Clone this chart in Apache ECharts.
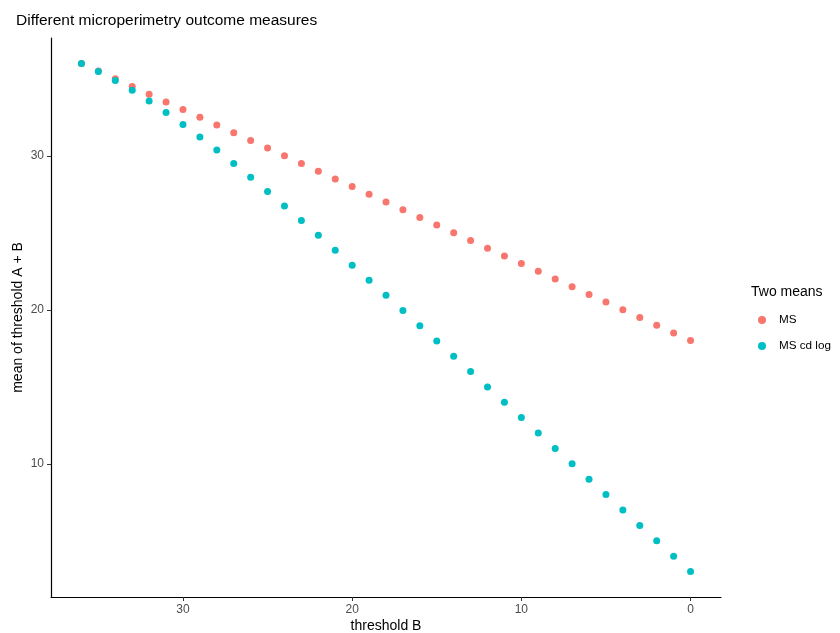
<!DOCTYPE html>
<html>
<head>
<meta charset="utf-8">
<script src="https://cdn.jsdelivr.net/npm/echarts@6/dist/echarts.min.js"></script>
<style>
  html, body { margin: 0; padding: 0; background: #fff; }
  #chart { width: 840px; height: 633px; }
</style>
</head>
<body>
<div id="chart"></div>
<script>
// threshold B values (dB), plotted on a reversed axis
const thresholdB = [36, 35, 34, 33, 32, 31, 30, 29, 28, 27, 26, 25, 24, 23, 22, 21, 20, 19,
  18, 17, 16, 15, 14, 13, 12, 11, 10, 9, 8, 7, 6, 5, 4, 3, 2, 1, 0];

// arithmetic mean of threshold A and B (dB)
const meanMS = [36, 35.5, 35, 34.5, 34, 33.5, 33, 32.5, 32, 31.5, 31, 30.5, 30, 29.5, 29, 28.5,
  28, 27.5, 27, 26.5, 26, 25.5, 25, 24.5, 24, 23.5, 23, 22.5, 22, 21.5, 21, 20.5, 20, 19.5,
  19, 18.5, 18];

// mean computed in cd/m² then converted back to dB
const meanCdLog = [36, 35.47, 34.89, 34.25, 33.56, 32.82, 32.04, 31.22, 30.37, 29.5, 28.6,
  27.68, 26.74, 25.8, 24.84, 23.87, 22.9, 21.92, 20.94, 19.96, 18.97, 17.98, 16.98, 15.99,
  14.99, 14, 13, 12, 11, 10, 9, 8, 7, 6, 5, 4, 3.01];

const xTicks = [0, 10, 20, 30];
const yTicks = [10, 20, 30];
const seriesNames = ['MS', 'MS cd log'];
const colors = ['#F8766D', '#00BFC4'];

const chart = echarts.init(document.getElementById('chart'), null, { renderer: 'canvas' });
const font = 'Helvetica, "Liberation Sans", Arial, sans-serif';

const pairs = (ys) => thresholdB.map((b, i) => [b, ys[i]]);

chart.setOption({
  animation: false,
  backgroundColor: '#ffffff',
  textStyle: { fontFamily: font },
  title: [
    {
      text: 'Different microperimetry outcome measures',
      left: 11, top: 8,
      textStyle: { fontSize: 15.5, fontWeight: 'normal', color: '#000', fontFamily: font }
    },
    {
      text: 'Two means',
      left: 746, top: 280,
      textStyle: { fontSize: 14, fontWeight: 'normal', color: '#000', fontFamily: font }
    }
  ],
  legend: {
    data: seriesNames,
    orient: 'vertical',
    left: 753, top: 309,
    itemWidth: 8, itemHeight: 8,
    itemGap: 14,
    icon: 'circle',
    textStyle: { fontSize: 11.7, color: '#000', fontFamily: font, padding: [0, 0, 0, 8] }
  },
  grid: { left: 51, right: 119, top: 38, bottom: 36, containLabel: false, outerBoundsMode: 'none' },
  xAxis: {
    type: 'value',
    inverse: true,
    min: -1.8, max: 37.8,
    name: 'threshold B',
    nameLocation: 'middle',
    nameGap: 22,
    nameMoveOverlap: false,
    nameTextStyle: { fontSize: 14, color: '#000', fontFamily: font },
    splitLine: { show: false },
    axisLine: { show: true, onZero: false, lineStyle: { color: '#000', width: 1.2 } },
    axisTick: { show: true, customValues: xTicks, length: 4, lineStyle: { color: '#333' } },
    axisLabel: { customValues: xTicks, fontSize: 12, color: '#4D4D4D', margin: 7, fontFamily: font }
  },
  yAxis: {
    type: 'value',
    min: 1.35, max: 37.65,
    name: 'mean of threshold A + B',
    nameLocation: 'middle',
    nameGap: 26,
    nameMoveOverlap: false,
    nameTextStyle: { fontSize: 14, color: '#000', fontFamily: font },
    splitLine: { show: false },
    axisLine: { show: true, onZero: false, lineStyle: { color: '#000', width: 1.2 } },
    axisTick: { show: true, customValues: yTicks, length: 4, lineStyle: { color: '#333' } },
    axisLabel: { customValues: yTicks, fontSize: 12, color: '#4D4D4D', margin: 7, fontFamily: font }
  },
  series: [
    {
      name: seriesNames[0],
      type: 'scatter',
      symbol: 'circle',
      symbolSize: 7,
      itemStyle: { color: colors[0], opacity: 1 },
      data: pairs(meanMS),
      z: 2
    },
    {
      name: seriesNames[1],
      type: 'scatter',
      symbol: 'circle',
      symbolSize: 7,
      itemStyle: { color: colors[1], opacity: 1 },
      data: pairs(meanCdLog),
      z: 3
    }
  ]
});
</script>
</body>
</html>
